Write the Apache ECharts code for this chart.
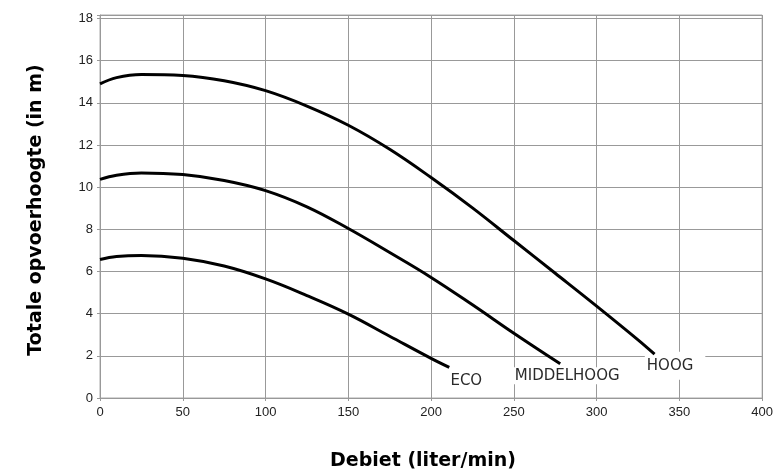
<!DOCTYPE html>
<html>
<head>
<meta charset="utf-8">
<script src="https://cdn.jsdelivr.net/npm/echarts@6/dist/echarts.min.js"></script>
<style>html,body{margin:0;padding:0;background:#fff}#c{width:776px;height:471px}</style>
</head>
<body>
<div id="c"></div>
<script>
// Data
var xTicks = [0, 50, 100, 150, 200, 250, 300, 350, 400];
var yTicks = [0, 2, 4, 6, 8, 10, 12, 14, 16, 18];
var seriesNames = ['HOOG', 'MIDDELHOOG', 'ECO'];
var hoogX = [0, 10, 25, 50, 75, 100, 125, 150, 175, 200, 225, 250, 275, 300, 325, 335];
var hoogY = [14.9, 15.2, 15.35, 15.3, 15.05, 14.58, 13.85, 12.94, 11.8, 10.46, 9.02, 7.47, 5.92, 4.36, 2.76, 2.08];
var middelX = [0, 10, 25, 50, 75, 100, 125, 150, 175, 200, 225, 250, 278];
var middelY = [10.37, 10.57, 10.68, 10.6, 10.32, 9.84, 9.07, 8.04, 6.9, 5.72, 4.42, 3.07, 1.62];
var ecoX = [0, 10, 25, 50, 75, 100, 125, 150, 175, 200, 211];
var ecoY = [6.57, 6.71, 6.76, 6.63, 6.26, 5.65, 4.86, 3.98, 2.93, 1.88, 1.45];
var xTitle = 'Debiet (liter/min)';
var yTitle = 'Totale opvoerhoogte (in m)';

function pairs(xs, ys) { return xs.map(function (x, i) { return [x, ys[i]]; }); }

var labelFont = { fontFamily: 'DejaVu Sans', fontWeight: 'normal', fontSize: 15, color: '#2a2a2a' };

function mkSeries(name, xs, ys, labelCfg) {
  var last = [xs[xs.length - 1], ys[ys.length - 1]];
  return {
    name: name, type: 'line', smooth: 0.4, symbol: 'none',
    lineStyle: { color: '#000', width: 3 },
    data: pairs(xs, ys),
    z: 5,
    markPoint: {
      symbol: 'circle', symbolSize: 0, silent: true,
      itemStyle: { color: 'transparent' },
      data: [{ coord: last }],
      label: Object.assign({ show: true, formatter: name, position: 'inside' }, labelFont, labelCfg)
    }
  };
}

var chart = echarts.init(document.getElementById('c'), null, { renderer: 'canvas' });
chart.setOption({
  animation: false,
  backgroundColor: '#fff',
  grid: { left: 100, right: 13, top: 15, bottom: 73, show: true, borderColor: '#aaa', borderWidth: 1 },
  xAxis: {
    type: 'value', min: xTicks[0], max: xTicks[xTicks.length - 1], interval: 50,
    axisLine: { show: true, lineStyle: { color: '#999' } },
    axisTick: { show: true, length: 3, lineStyle: { color: '#999' } },
    axisLabel: { color: '#222', fontFamily: 'Liberation Sans', fontSize: 13, margin: 8 },
    splitLine: { show: true, lineStyle: { color: '#999', width: 1 } }
  },
  yAxis: {
    type: 'value', min: yTicks[0], max: 18.17, interval: 2,
    axisLine: { show: true, lineStyle: { color: '#999' } },
    axisTick: { show: true, length: 3, lineStyle: { color: '#999' } },
    axisLabel: {
      color: '#222', fontFamily: 'Liberation Sans', fontSize: 13, margin: 7,
      formatter: function (v) { return yTicks.indexOf(v) >= 0 ? String(v) : ''; }
    },
    splitLine: { show: true, lineStyle: { color: '#999', width: 1 } }
  },
  graphic: [
    { type: 'text', x: 423, y: 461, style: { text: xTitle, font: 'bold 19px "DejaVu Sans"', fill: '#000', align: 'center', verticalAlign: 'middle' } },
    { type: 'text', x: 36, y: 210, rotation: Math.PI / 2, style: { text: yTitle, font: 'bold 19px "DejaVu Sans"', fill: '#000', align: 'center', verticalAlign: 'middle' } }
  ],
  series: [
    mkSeries(seriesNames[0], hoogX, hoogY, { offset: [20.5, 11.5], backgroundColor: '#fff', padding: [9, 12, 4, 2] }),
    mkSeries(seriesNames[1], middelX, middelY, { offset: [7, 12], backgroundColor: '#fff', padding: [1, 1, 1, 1] }),
    mkSeries(seriesNames[2], ecoX, ecoY, { offset: [17, 14] })
  ]
});
</script>
</body>
</html>
